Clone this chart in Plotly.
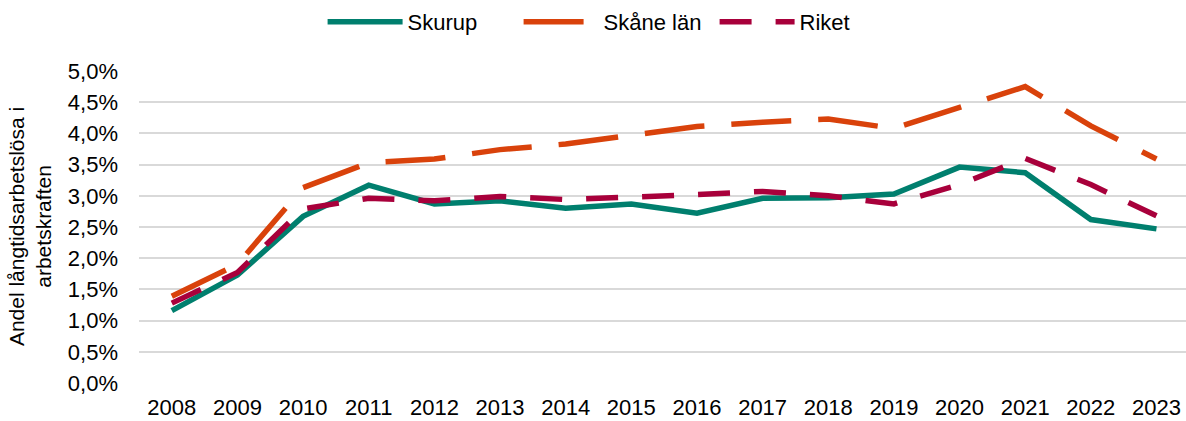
import plotly.graph_objects as go

years = [str(y) for y in range(2008, 2024)]
skurup = [1.16, 1.73, 2.67, 3.17, 2.87, 2.92, 2.80, 2.87, 2.72, 2.96, 2.97, 3.03, 3.46, 3.37, 2.62, 2.47]
skane = [1.39, 1.90, 3.13, 3.53, 3.59, 3.74, 3.83, 3.98, 4.11, 4.18, 4.23, 4.08, 4.42, 4.75, 4.12, 3.59]
riket = [1.28, 1.77, 2.79, 2.96, 2.92, 2.99, 2.94, 2.97, 3.02, 3.07, 3.00, 2.87, 3.18, 3.60, 3.18, 2.68]

tick_vals = [i * 0.5 for i in range(11)]
tick_text = [f"{v:.1f}%".replace(".", ",") for v in tick_vals]

fig = go.Figure()
fig.add_trace(go.Scatter(x=years, y=skurup, name="Skurup", mode="lines",
                         line=dict(color="#007F6E", width=5.5)))
fig.add_trace(go.Scatter(x=years, y=skane, name="Skåne län", mode="lines",
                         line=dict(color="#D9420B", width=5.5, dash="60px,27px")))
fig.add_trace(go.Scatter(x=years, y=riket, name="Riket", mode="lines",
                         line=dict(color="#A8003B", width=5.5, dash="32px,24px")))

fig.update_layout(
    width=1186, height=421,
    margin=dict(l=139, r=0, t=71, b=38),
    plot_bgcolor="white", paper_bgcolor="white",
    font=dict(family="Liberation Sans, Arial", size=22, color="#000000"),
    showlegend=True,
    legend=dict(orientation="h", xref="container", x=0.272, xanchor="left",
                yref="container", y=0.948, yanchor="middle",
                font=dict(size=22), itemwidth=75, entrywidth=106,
                traceorder="normal"),
    xaxis=dict(type="category", range=[-0.5, 15.45], showgrid=False,
               showline=False, zeroline=False, ticks="", ticklabelstandoff=9,
               tickfont=dict(size=22), automargin=False),
    yaxis=dict(range=[0, 5.0], tickvals=tick_vals, ticktext=tick_text,
               showgrid=True, gridcolor="#D9D9D9", gridwidth=1.5,
               zeroline=False, showline=False, ticks="", ticklabelstandoff=20,
               tickfont=dict(size=22), automargin=False),
    annotations=[dict(text="Andel långtidsarbetslösa i<br>arbetskraften",
                      xref="paper", yref="paper", x=-0.104, y=0.5,
                      xanchor="center", yanchor="middle", textangle=-90,
                      showarrow=False, font=dict(size=21))],
)

fig.write_html("out.html",
               config={"displayModeBar": False},
               post_script="document.body.style.margin='0px';document.body.style.overflow='hidden';")
